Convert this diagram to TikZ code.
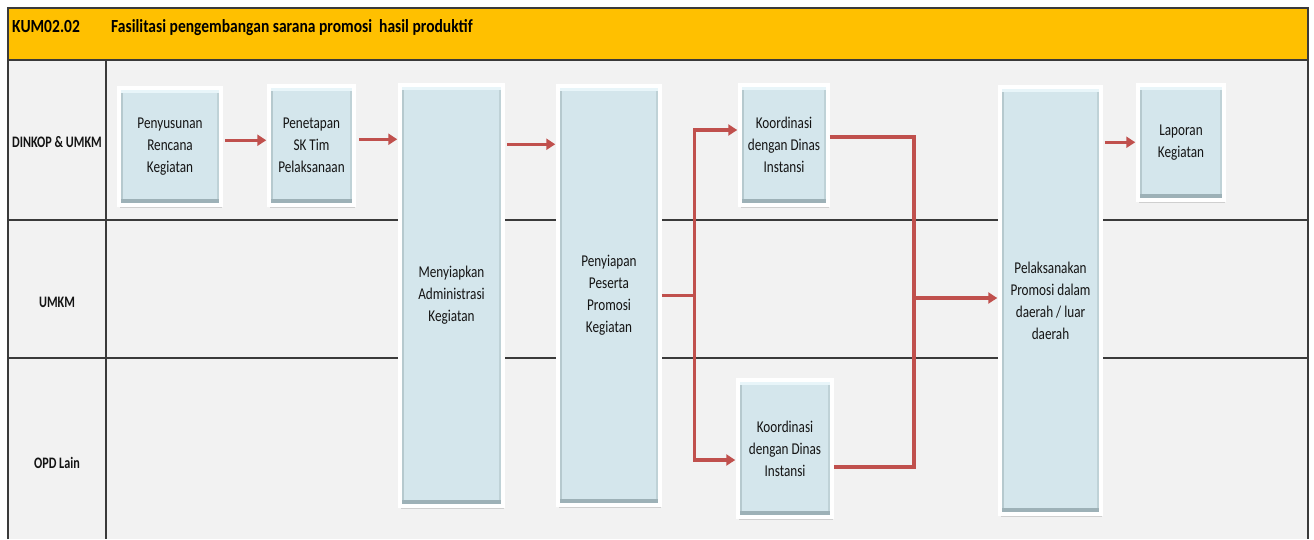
\documentclass[tikz,border=0pt]{standalone}
\usepackage{fontspec}
\setmainfont{Carlito}
\newfontfamily\bodyfont[FakeStretch=0.8]{Carlito}
\newfontfamily\lanefont[FakeStretch=0.76]{Carlito}
\newfontfamily\headfont[FakeStretch=0.84]{Carlito}
\usetikzlibrary{arrows.meta,shadows,calc}
\definecolor{hdr}{HTML}{FFC000}
\definecolor{lanebg}{HTML}{F2F2F2}
\definecolor{frameln}{HTML}{3A3A3A}
\definecolor{boxblue}{HTML}{D4E6EC}
\definecolor{bevdark}{HTML}{9DB1B7}
\definecolor{bevside}{HTML}{B6C9CE}
\definecolor{bevlight}{HTML}{E8F5F9}
\definecolor{flowred}{HTML}{C0504D}
\definecolor{txt}{HTML}{141414}
\tikzset{
  proc/.style={draw=white, line width=3.5pt, fill=boxblue, inner sep=2pt,
    drop shadow={opacity=0.3, shadow xshift=1pt, shadow yshift=-2.5pt},
    align=center, text=txt, font=\bodyfont\fontsize{16.5}{22}\selectfont,
    path picture={
      \fill[bevside] ([xshift=1.75pt,yshift=1.75pt]path picture bounding box.south west)
        rectangle ([xshift=4pt,yshift=-1.75pt]path picture bounding box.north west);
      \fill[bevside!70!boxblue] ([xshift=-4pt,yshift=1.75pt]path picture bounding box.south east)
        rectangle ([xshift=-1.75pt,yshift=-1.75pt]path picture bounding box.north east);
      \fill[bevlight] ([xshift=1.75pt,yshift=-1.75pt]path picture bounding box.north west)
        rectangle ([xshift=-1.75pt,yshift=-5pt]path picture bounding box.north east);
      \fill[bevdark] ([xshift=1.75pt,yshift=1.75pt]path picture bounding box.south west)
        rectangle ([xshift=-1.75pt,yshift=6pt]path picture bounding box.south east);
    }},
  flow/.style={draw=flowred, line width=3.3pt},
  arr/.style={flow, -{Triangle[length=9pt,width=11pt]}, shorten >=1pt},
  lanelbl/.style={font=\lanefont\bfseries\fontsize{16}{18}\selectfont, text=txt},
  hdrtxt/.style={font=\headfont\bfseries\fontsize{18.5}{20}\selectfont, text=black, anchor=base west, inner sep=0pt},
  gridln/.style={draw=frameln, line width=1.3pt}
}
\begin{document}
\begin{tikzpicture}[x=1pt,y=-1pt]
  \useasboundingbox (0,0) rectangle (1314,539);
  % background, header band and swimlane grid
  \fill[white] (0,0) rectangle (1314,539);
  \fill[lanebg] (8,60) rectangle (1308,539);
  \fill[hdr] (8,8) rectangle (1308,60);
  \draw[gridln] (8,539) -- (8,8) -- (1308,8) -- (1308,539);
  \draw[gridln] (8,60) -- (1308,60);
  \draw[gridln] (8,220) -- (1308,220);
  \draw[gridln] (8,358) -- (1308,358);
  \draw[gridln] (106,60) -- (106,539);
  \node[hdrtxt] (code) at (12,32) {KUM02.02};
  \node[hdrtxt] (title) at (111,32) {Fasilitasi pengembangan sarana promosi\ \ hasil produktif};
  % lane names
  \node[lanelbl] (l1) at (57,142) {DINKOP \& UMKM};
  \node[lanelbl] (l2) at (57,302) {UMKM};
  \node[lanelbl] (l3) at (57,463) {OPD Lain};
  % process boxes
  \node[proc, minimum width=102pt, minimum height=117pt] (P1) at (170,146.5) {Penyusunan\\Rencana\\Kegiatan};
  \node[proc, minimum width=85pt, minimum height=119pt] (P2) at (311.5,145.5) {Penetapan\\SK Tim\\Pelaksanaan};
  \node[proc, minimum width=103pt, minimum height=421pt] (P3) at (451.5,295.5) {Menyiapkan\\Administrasi\\Kegiatan};
  \node[proc, minimum width=102pt, minimum height=419pt] (P4) at (609,295.5) {Penyiapan\\Peserta\\Promosi\\Kegiatan};
  \node[proc, minimum width=88pt, minimum height=120pt] (K1) at (784,145) {Koordinasi\\dengan Dinas\\Instansi};
  \node[proc, minimum width=94pt, minimum height=137pt] (K2) at (785,448.5) {Koordinasi\\dengan Dinas\\Instansi};
  \node[proc, minimum width=101pt, minimum height=427pt] (P7) at (1050.5,300.5) {Pelaksanakan\\Promosi dalam\\daerah / luar\\daerah};
  \node[proc, minimum width=86pt, minimum height=115pt] (L) at (1181,142.5) {Laporan\\Kegiatan};
  % connectors
  \coordinate (s1) at ($(P1.north east)+(2,54)$);
  \draw[arr] (s1) -- (s1 -| P2.west);
  \coordinate (s2) at ($(P2.north east)+(3,55)$);
  \draw[arr] (s2) -- (s2 -| P3.west);
  \coordinate (s3) at ($(P3.north east)+(2,61)$);
  \draw[arr] (s3) -- (s3 -| P4.west);
  \coordinate (br) at ($(P4.east)+(33,0)$);
  \draw[flow] (P4.east) -- (br);
  \draw[arr] (br) |- ([yshift=15pt]K1.west);
  \draw[arr] (br) |- ([yshift=-11.5pt]K2.west);
  \coordinate (mg) at (914,298);
  \draw[flow] ([yshift=8pt]K1.east) -| (mg);
  \draw[flow] ([yshift=-18.5pt]K2.east) -| (mg);
  \draw[arr] (mg) -- (mg -| P7.west);
  \coordinate (s7) at ($(P7.north east)+(2,57)$);
  \draw[arr] (s7) -- (s7 -| L.west);
\end{tikzpicture}
\end{document}
